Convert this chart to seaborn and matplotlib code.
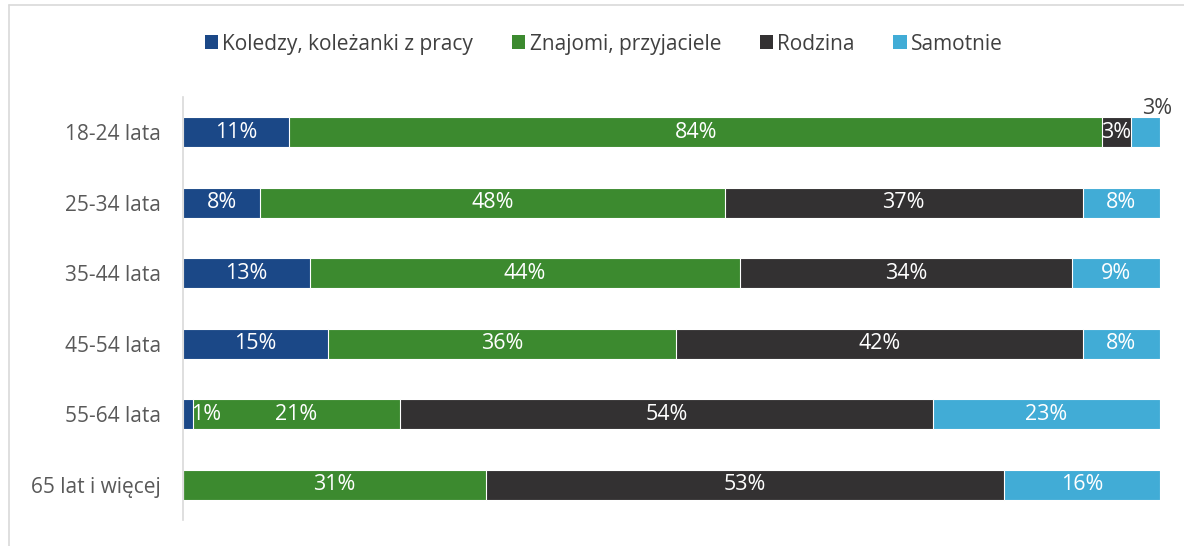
import numpy as np
import pandas as pd
import seaborn as sns
import matplotlib.pyplot as plt
from matplotlib.patches import Patch

sns.set_style("white")
plt.rcParams['font.family'] = ['Open Sans', 'DejaVu Sans']

groups = ["18-24 lata", "25-34 lata", "35-44 lata", "45-54 lata", "55-64 lata", "65 lat i więcej"]
series = ["Koledzy, koleżanki z pracy", "Znajomi, przyjaciele", "Rodzina", "Samotnie"]
koledzy = [11, 8, 13, 15, 1, 0]
znajomi = [84, 48, 44, 36, 21, 31]
rodzina = [3, 37, 34, 42, 54, 53]
samotnie = [3, 8, 9, 8, 23, 16]
colors = ["#1b4887", "#3c8a2f", "#333132", "#41acd6"]

vals = np.array([koledzy, znajomi, rodzina, samotnie], dtype=float)
shares = vals / vals.sum(axis=0) * 100
cum = shares.cumsum(axis=0)

fig = plt.figure(figsize=(11.84, 5.46), dpi=100)
ax = fig.add_axes([183 / 1184, 1 - 520 / 546, 977 / 1184, 423 / 546])

# stacked bars: draw cumulative totals from the last series back to the first
for i in range(len(series) - 1, -1, -1):
    df = pd.DataFrame({"group": groups, "value": cum[i]})
    sns.barplot(data=df, x="value", y="group", orient="h", color=colors[i],
                saturation=1, width=0.42, edgecolor="white", linewidth=0.8, ax=ax)

# data labels
for i in range(len(series)):
    for j, g in enumerate(groups):
        v = vals[i, j]
        if v == 0:
            continue
        left = cum[i, j] - shares[i, j]
        xc = left + shares[i, j] / 2
        if i == 3 and v <= 3:
            ax.text(cum[i, j] - 0.3, j - 0.34, f"{v:.0f}%", ha="center", va="center",
                    fontsize=15.5, color="#404040")
        else:
            if v <= 1:
                xc = left + 2.4
            ax.text(xc, j, f"{v:.0f}%", ha="center", va="center",
                    fontsize=15.5, color="white")

ax.set_xlim(0, 100)
ax.set_ylim(5.5, -0.5)
ax.set_xlabel("")
ax.set_ylabel("")
ax.set_xticks([])
ax.tick_params(axis="y", length=0, pad=16, labelsize=15, labelcolor="#595959")
sns.despine(ax=ax, top=True, right=True, bottom=True, left=False)
ax.spines["left"].set_color("#d9d9d9")
ax.spines["left"].set_linewidth(1.2)

handles = [Patch(facecolor=c, edgecolor="none") for c in colors]
fig.legend(handles, series, loc="center", bbox_to_anchor=(0.51, 1 - 44 / 546),
           ncol=4, frameon=False, fontsize=15, labelcolor="#404040",
           handlelength=0.65, handleheight=0.65, handletextpad=0.2, columnspacing=1.85)

# chart-area outline (left and top edges visible)
fig.add_artist(plt.Line2D([9 / 1184, 9 / 1184], [0, 1 - 5 / 546], transform=fig.transFigure,
                          color="#d9d9d9", linewidth=1.2))
fig.add_artist(plt.Line2D([9 / 1184, 1], [1 - 5 / 546, 1 - 5 / 546], transform=fig.transFigure,
                          color="#d9d9d9", linewidth=1.2))

plt.savefig("out.png", dpi=100)
